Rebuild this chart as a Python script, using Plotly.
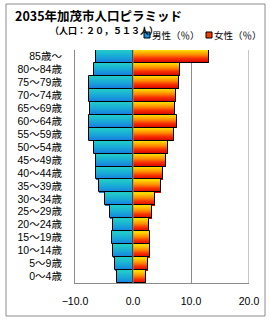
import plotly.graph_objects as go

ages = ["0～4歳", "5～9歳", "10～14歳", "15～19歳", "20～24歳", "25～29歳",
        "30～34歳", "35～39歳", "40～44歳", "45～49歳", "50～54歳", "55～59歳",
        "60～64歳", "65～69歳", "70～74歳", "75～79歳", "80～84歳", "85歳～"]
male = [2.8, 3.1, 3.4, 3.6, 3.4, 4.0, 4.8, 5.9, 6.3, 6.3, 6.7, 7.6,
        7.6, 7.4, 7.6, 7.6, 6.7, 6.4]
female = [2.2, 2.6, 2.9, 2.9, 2.8, 3.3, 3.8, 4.8, 5.2, 5.7, 6.0, 7.1,
          7.6, 7.2, 7.4, 7.9, 8.1, 13.1]
x_ticks = [-10, 0, 10, 20]

title_text = "2035年加茂市人口ピラミッド"
sub_text = "（人口：２０，５１３人）"
male_name = "男性（％）"
female_name = "女性（％）"

FONT = "Noto Sans CJK JP"
TICKFONT = "Liberation Sans, Noto Sans CJK JP"


def lerp(stops, t):
    for i in range(len(stops) - 1):
        p0, c0 = stops[i]
        p1, c1 = stops[i + 1]
        if p0 <= t <= p1:
            f = (t - p0) / (p1 - p0) if p1 > p0 else 0
            return "rgb(%d,%d,%d)" % tuple(round(c0[k] + (c1[k] - c0[k]) * f) for k in range(3))
    return "rgb(%d,%d,%d)" % stops[-1][1]


male_stops = [(0.0, (0x18, 0x78, 0xE0)), (0.5, (0x18, 0xA8, 0xD8)), (1.0, (0x22, 0xCC, 0xC8))]
female_stops = [(0.0, (0xD0, 0x00, 0x00)), (0.35, (0xF8, 0x30, 0x00)),
                (0.65, (0xFF, 0x90, 0x00)), (1.0, (0xFF, 0xE0, 0x00))]

N = 13
fig = go.Figure()
neg_male = [-v for v in male]
for k in range(N):
    t = (k + 0.5) / N
    off = -0.5 + k / N
    fig.add_trace(go.Bar(y=ages, x=neg_male, orientation="h", base=0,
                         offset=off, width=1.0 / N + 0.02,
                         marker=dict(color=lerp(male_stops, t), line=dict(width=0)),
                         showlegend=False, hoverinfo="skip"))
    fig.add_trace(go.Bar(y=ages, x=female, orientation="h", base=0,
                         offset=off, width=1.0 / N + 0.02,
                         marker=dict(color=lerp(female_stops, t), line=dict(width=0)),
                         showlegend=False, hoverinfo="skip"))

for vals in (neg_male, female):
    fig.add_trace(go.Bar(y=ages, x=vals, orientation="h", base=0, offset=-0.5, width=1.0,
                         marker=dict(color="rgba(0,0,0,0)", line=dict(color="black", width=1)),
                         showlegend=False, hoverinfo="skip"))

L, R, T, B = 75, 21, 50, 37
PW, PH = 270 - L - R, 320 - T - B


def px(x):
    return (x - L) / PW


def py(y):
    return (320 - B - y) / PH


shapes = [
    dict(type="rect", xref="paper", yref="paper", x0=px(6), x1=px(265), y0=py(316), y1=py(4),
         line=dict(color="#8c8c8c", width=1), layer="below"),
    dict(type="line", xref="x", yref="paper", x0=0, x1=0, y0=0, y1=1,
         line=dict(color="#909090", width=1), layer="above"),
    dict(type="line", xref="x", yref="paper", x0=20, x1=20, y0=0, y1=1,
         line=dict(color="#8c8c8c", width=1), layer="below"),
    dict(type="rect", xref="paper", yref="paper", x0=px(144), x1=px(150), y0=py(38), y1=py(32),
         fillcolor="#1890E0", line=dict(color="black", width=1)),
    dict(type="rect", xref="paper", yref="paper", x0=px(206), x1=px(212), y0=py(38), y1=py(32),
         fillcolor="#F04000", line=dict(color="black", width=1)),
]

annotations = [
    dict(text="<b>" + title_text + "</b>", xref="paper", yref="paper", x=px(13), y=py(15),
         xanchor="left", yanchor="middle", showarrow=False,
         font=dict(family=FONT, size=12.5, color="black")),
    dict(text="<b>" + sub_text + "</b>", xref="paper", yref="paper", x=px(48), y=py(30),
         xanchor="left", yanchor="middle", showarrow=False,
         font=dict(family=FONT, size=9, color="black")),
    dict(text=male_name, xref="paper", yref="paper", x=px(150), y=py(35),
         xanchor="left", yanchor="middle", showarrow=False,
         font=dict(family=FONT, size=9.5, color="black")),
    dict(text=female_name, xref="paper", yref="paper", x=px(212), y=py(35),
         xanchor="left", yanchor="middle", showarrow=False,
         font=dict(family=FONT, size=9.5, color="black")),
]

fig.update_layout(
    width=270, height=320, margin=dict(l=L, r=R, t=T, b=B, pad=0),
    paper_bgcolor="white", plot_bgcolor="white",
    barmode="overlay", bargap=0,
    showlegend=False,
    shapes=shapes, annotations=annotations,
    font=dict(family=FONT, color="black"),
    xaxis=dict(range=[-10, 20], tickvals=x_ticks, tickformat=".1f",
               showgrid=True, gridcolor="#8c8c8c", gridwidth=1,
               zeroline=False, showline=True, linecolor="#8c8c8c", linewidth=1,
               ticks="", ticklabelstandoff=8,
               tickfont=dict(family=TICKFONT, size=10.5, color="black"), fixedrange=True),
    yaxis=dict(type="category", categoryorder="array", categoryarray=ages,
               range=[-0.5, len(ages) - 0.5],
               tickmode="array", tickvals=ages, ticktext=ages,
               showgrid=False, zeroline=False, showline=True, linecolor="#8c8c8c", linewidth=1,
               ticks="", ticklabelstandoff=10,
               tickfont=dict(family=TICKFONT, size=10.5, color="black"), fixedrange=True),
)

fig.write_html("out.html")
